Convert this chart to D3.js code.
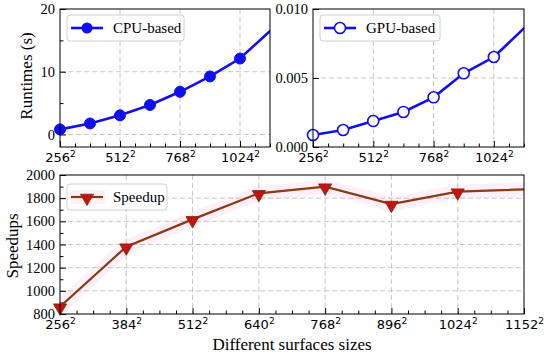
<!DOCTYPE html>
<html>
<head>
<meta charset="utf-8">
<script src="https://cdn.jsdelivr.net/npm/d3@7"></script>
<style>
  body { margin: 0; background: #fff; }
  svg { display: block; }
  .tick text { fill: #000; }
</style>
</head>
<body>
<svg width="550" height="356"></svg>
<script>
'use strict'

// sizes (n of n^2); the last one lies just past the visible range and gets clipped
const sizes = [256, 384, 512, 640, 768, 896, 1024, 1280]
const cpuTimes = [0.8, 1.75, 3.05, 4.7, 6.8, 9.25, 12.1, 20.9]
const gpuTimes = [0.00087, 0.00123, 0.00188, 0.00254, 0.0036, 0.00534, 0.00652, 0.0107]
const speedups = [863, 1381, 1617, 1842, 1899, 1749, 1856, 1896]

const topXTicks = [256, 512, 768, 1024]
const bottomXTicks = [256, 384, 512, 640, 768, 896, 1024, 1152]
const cpuYTicks = [0, 10, 20]
const gpuYTicks = [0, 0.005, 0.01]
const speedYTicks = [800, 1000, 1200, 1400, 1600, 1800, 2000]

const svg = d3.select('svg')
const blue = '#1010ee'
const serif = '"Liberation Serif", "Times New Roman", serif'
const sans = '"DejaVu Sans", sans-serif'

function panel(id, x0, x1, y0, y1, xMinorStep, yDomain, yTicks, yMinor, yFmt, xTicks) {
  const x = d3.scaleLinear().domain([256, 1152]).range([x0, x1])
  const y = d3.scaleLinear().domain(yDomain).range([y1, y0])
  const g = svg.append('g')

  svg.append('clipPath').attr('id', id).append('rect')
    .attr('x', x0).attr('y', y0).attr('width', x1 - x0).attr('height', y1 - y0)

  // grid
  g.selectAll('line.gx').data(xTicks.filter((t) => t > 256 && t < 1152)).enter()
    .append('line')
    .attr('x1', (d) => x(d)).attr('x2', (d) => x(d)).attr('y1', y0).attr('y2', y1)
    .style('stroke', '#b8b8b8').style('stroke-width', 0.8).style('stroke-dasharray', '5,3')
  g.selectAll('line.gy').data(yTicks.filter((t) => t > yDomain[0] && t < yDomain[1])).enter()
    .append('line')
    .attr('x1', x0).attr('x2', x1).attr('y1', (d) => y(d)).attr('y2', (d) => y(d))
    .style('stroke', '#b8b8b8').style('stroke-width', 0.8).style('stroke-dasharray', '5,3')

  // x axis, inward ticks
  const xMinor = d3.range(256, 1152 + 1, xMinorStep).filter((t) => !xTicks.includes(t))
  g.append('g').attr('transform', `translate(0,${y1})`)
    .call(d3.axisBottom(x).tickValues(xMinor).tickSize(-3.5).tickFormat(''))
    .call((a) => a.select('.domain').remove())
  const xa = g.append('g').attr('transform', `translate(0,${y1})`)
    .call(d3.axisBottom(x).tickValues(xTicks).tickSize(-6).tickFormat(() => ''))
  xa.select('.domain').remove()
  xa.selectAll('.tick text').remove()
  xa.selectAll('.tick').append('text')
    .attr('y', 15).attr('text-anchor', 'middle')
    .style('font-family', sans).style('font-size', '13px').style('fill', '#000')
    .each(function(d) {
      const t = d3.select(this)
      t.append('tspan').text(d)
      t.append('tspan').attr('dy', -5).style('font-size', '9px').text('2')
    })

  // y axis, inward ticks
  if (yMinor.length) {
    g.append('g').attr('transform', `translate(${x0},0)`)
      .call(d3.axisLeft(y).tickValues(yMinor).tickSize(-3.5).tickFormat(''))
      .call((a) => a.select('.domain').remove())
  }
  const ya = g.append('g').attr('transform', `translate(${x0},0)`)
    .call(d3.axisLeft(y).tickValues(yTicks).tickSize(-6).tickFormat(yFmt))
  ya.select('.domain').remove()
  ya.selectAll('.tick text').attr('x', -5)
    .style('font-family', serif).style('font-size', '14.5px')
  g.selectAll('.tick line').style('stroke', '#000')

  return { x, y, g, x0, x1, y0, y1, id }
}

function frame(p) {
  p.g.append('rect')
    .attr('x', p.x0).attr('y', p.y0).attr('width', p.x1 - p.x0).attr('height', p.y1 - p.y0)
    .style('fill', 'none').style('stroke', '#000').style('stroke-width', 1)
}

function legend(p, lx, ly, w, label, drawMarker) {
  const lg = p.g.append('g').attr('transform', `translate(${lx},${ly})`)
  lg.append('rect').attr('width', w).attr('height', 26).attr('rx', 3)
    .style('fill', 'rgba(255,255,255,0.85)').style('stroke', '#d0d0d0')
  drawMarker(lg, 20, 13)
  lg.append('text').attr('x', 46).attr('y', 18)
    .style('font-family', serif).style('font-size', '15px').text(label)
}

// ---- CPU panel
const cpu = panel('clipCpu', 60, 270, 9, 147, 64, [-2, 20], cpuYTicks, [5, 15], d3.format('d'), topXTicks)
const cpuLine = d3.line().x((d, i) => cpu.x(sizes[i])).y((d) => cpu.y(d))
cpu.g.append('path').datum(cpuTimes).attr('d', cpuLine).attr('clip-path', 'url(#clipCpu)')
  .style('fill', 'none').style('stroke', blue).style('stroke-width', 2.6)
cpu.g.selectAll('circle.cpu').data(cpuTimes.filter((d, i) => sizes[i] < 1152)).enter()
  .append('circle').attr('r', 5.5)
  .attr('cx', (d, i) => cpu.x(sizes[i])).attr('cy', (d) => cpu.y(d))
  .style('fill', blue).style('stroke', blue)
legend(cpu, 67, 15, 117, 'CPU-based', (lg, cx, cy) => {
  lg.append('line').attr('x1', 4).attr('x2', 36).attr('y1', cy).attr('y2', cy)
    .style('stroke', blue).style('stroke-width', 2.6)
  lg.append('circle').attr('cx', cx).attr('cy', cy).attr('r', 5.5).style('fill', blue)
})
frame(cpu)
svg.append('text').attr('transform', 'translate(32,76) rotate(-90)')
  .attr('text-anchor', 'middle')
  .style('font-family', serif).style('font-size', '17px').text('Runtimes (s)')

// ---- GPU panel
const gpu = panel('clipGpu', 313, 524, 9, 147, 64, [0, 0.01], gpuYTicks, [], d3.format('.3f'), topXTicks)
const gpuLine = d3.line().x((d, i) => gpu.x(sizes[i])).y((d) => gpu.y(d))
gpu.g.append('path').datum(gpuTimes).attr('d', gpuLine).attr('clip-path', 'url(#clipGpu)')
  .style('fill', 'none').style('stroke', blue).style('stroke-width', 2.6)
gpu.g.selectAll('circle.gpu').data(gpuTimes.filter((d, i) => sizes[i] < 1152)).enter()
  .append('circle').attr('r', 5.5)
  .attr('cx', (d, i) => gpu.x(sizes[i])).attr('cy', (d) => gpu.y(d))
  .style('fill', '#fff').style('stroke', blue).style('stroke-width', 1.6)
legend(gpu, 320, 15, 120, 'GPU-based', (lg, cx, cy) => {
  lg.append('line').attr('x1', 4).attr('x2', 36).attr('y1', cy).attr('y2', cy)
    .style('stroke', blue).style('stroke-width', 2.6)
  lg.append('circle').attr('cx', cx).attr('cy', cy).attr('r', 5.5)
    .style('fill', '#fff').style('stroke', blue).style('stroke-width', 1.6)
})
frame(gpu)

// ---- Speedup panel
const sp = panel('clipSp', 60, 524, 175, 314, 32, [800, 2000], speedYTicks, d3.range(900, 2000, 200), d3.format('d'), bottomXTicks)
const spLine = d3.line().x((d, i) => sp.x(sizes[i])).y((d) => sp.y(d))
const tri = d3.symbol().type(d3.symbolTriangle).size(75)
sp.g.append('path').datum(speedups).attr('d', spLine).attr('clip-path', 'url(#clipSp)')
  .style('fill', 'none').style('stroke', '#ff5fc8').style('stroke-opacity', 0.1)
  .style('stroke-width', 14)
sp.g.append('path').datum(speedups).attr('d', spLine).attr('clip-path', 'url(#clipSp)')
  .style('fill', 'none').style('stroke', '#8b3a12').style('stroke-width', 2.2)
sp.g.selectAll('path.tri').data(speedups.filter((d, i) => sizes[i] < 1152)).enter()
  .append('path').attr('d', tri)
  .attr('transform', (d, i) => `translate(${sp.x(sizes[i])},${sp.y(d) + 1}) rotate(180)`)
  .style('fill', '#c8100c').style('stroke', '#6b3010').style('stroke-width', 0.8)
legend(sp, 67, 184, 100, 'Speedup', (lg, cx, cy) => {
  lg.append('rect').attr('x', 4).attr('y', cy - 7).attr('width', 34).attr('height', 14)
    .style('fill', '#ff5fc8').style('opacity', 0.1)
  lg.append('line').attr('x1', 4).attr('x2', 36).attr('y1', cy).attr('y2', cy)
    .style('stroke', '#8b3a12').style('stroke-width', 2.2)
  lg.append('path').attr('d', tri).attr('transform', `translate(${cx},${cy + 1}) rotate(180)`)
    .style('fill', '#c8100c').style('stroke', '#6b3010').style('stroke-width', 0.8)
})
frame(sp)
svg.append('text').attr('transform', 'translate(18,246) rotate(-90)')
  .attr('text-anchor', 'middle')
  .style('font-family', serif).style('font-size', '17px').text('Speedups')
svg.append('text').attr('x', 292).attr('y', 350).attr('text-anchor', 'middle')
  .style('font-family', serif).style('font-size', '17px').text('Different surfaces sizes')
</script>
</body>
</html>
